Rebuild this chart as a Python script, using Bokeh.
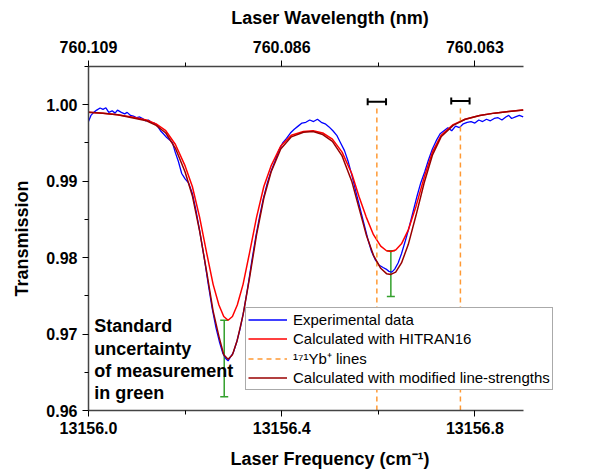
from bokeh.plotting import figure
from bokeh.models import (Range1d, LinearAxis, FixedTicker, Whisker, TeeHead,
                          ColumnDataSource, Legend, LegendItem, Label)
from bokeh.embed import file_html
from bokeh.resources import INLINE

F0 = 13156.0
# ---- data (frequency offset from 13156.0 cm^-1, transmission) ----
exp_df = [0.000, 0.005, 0.011, 0.017, 0.024, 0.030, 0.036, 0.042, 0.049, 0.055, 0.060, 0.068, 0.075, 0.080,
          0.087, 0.093, 0.100, 0.106, 0.112, 0.118, 0.124, 0.130, 0.136, 0.142, 0.149, 0.155, 0.162, 0.168,
          0.174, 0.180, 0.186, 0.193, 0.200, 0.207, 0.215, 0.223, 0.231, 0.240, 0.248, 0.256, 0.264, 0.271,
          0.278, 0.284, 0.289, 0.294, 0.300, 0.307, 0.314, 0.322, 0.330, 0.338, 0.346, 0.354, 0.362, 0.370,
          0.378, 0.386, 0.394, 0.402, 0.410, 0.418, 0.426, 0.434, 0.442, 0.450, 0.458, 0.466, 0.474, 0.482,
          0.490, 0.498, 0.506, 0.514, 0.522, 0.530, 0.538, 0.546, 0.554, 0.562, 0.570, 0.578, 0.586, 0.594,
          0.602, 0.610, 0.616, 0.622, 0.628, 0.634, 0.641, 0.648, 0.656, 0.664, 0.672, 0.680, 0.688, 0.696,
          0.704, 0.712, 0.720, 0.728, 0.736, 0.744, 0.752, 0.760, 0.768, 0.776, 0.784, 0.792, 0.800, 0.808,
          0.816, 0.824, 0.832, 0.840, 0.848, 0.856, 0.864, 0.870, 0.876, 0.884, 0.892, 0.900]
exp_T = [0.9978, 0.9986, 0.9990, 0.9993, 0.99957, 0.9994, 0.9996, 0.9990, 0.9992, 0.9989, 0.9993, 0.9990, 0.9988, 0.9990,
         0.9986, 0.9985, 0.9983, 0.9984, 0.9982, 0.9979, 0.9980, 0.9977, 0.9976, 0.9973, 0.9966, 0.9962, 0.9957, 0.9954,
         0.9950, 0.9937, 0.9926, 0.9910, 0.9903, 0.9898, 0.9884, 0.9860, 0.9832, 0.9798, 0.9765, 0.9734, 0.9708, 0.9690,
         0.9675, 0.9668, 0.9665, 0.9670, 0.9676, 0.9690, 0.9707, 0.9732, 0.9762, 0.9795, 0.9826, 0.9853, 0.9877, 0.9897,
         0.9913, 0.9926, 0.9940, 0.9950, 0.9956, 0.9963, 0.9968, 0.9972, 0.9976, 0.9977, 0.9980, 0.9978, 0.9981, 0.9977,
         0.9975, 0.9971, 0.9966, 0.9960, 0.9950, 0.9940, 0.9925, 0.9906, 0.9885, 0.9865, 0.9845, 0.9825, 0.9808, 0.9797,
         0.9790, 0.9787, 0.9785, 0.9782, 0.9781, 0.9785, 0.9793, 0.9805, 0.9822, 0.9840, 0.9860, 0.9880, 0.9898, 0.9912,
         0.9928, 0.9942, 0.9953, 0.9962, 0.9966, 0.9970, 0.9966, 0.9972, 0.9970, 0.9975, 0.9977, 0.9978, 0.9976, 0.9980,
         0.9978, 0.9981, 0.9979, 0.9982, 0.9983, 0.9980, 0.9984, 0.9986, 0.9982, 0.9984, 0.9986, 0.9984]

calc_df = [0.000, 0.030, 0.060, 0.090, 0.120, 0.140, 0.160, 0.180, 0.200, 0.215, 0.230, 0.245, 0.258, 0.270,
           0.280, 0.289, 0.298, 0.308, 0.320, 0.333, 0.348, 0.363, 0.378, 0.398, 0.420, 0.445, 0.465, 0.485,
           0.505, 0.525, 0.545, 0.560, 0.575, 0.590, 0.605, 0.617, 0.626, 0.636, 0.648, 0.662, 0.678, 0.695,
           0.712, 0.730, 0.755, 0.780, 0.810, 0.840, 0.870, 0.900]
hitran_T = [0.9990, 0.9989, 0.9987, 0.9984, 0.9980, 0.9975, 0.9966, 0.9948, 0.9920, 0.9893, 0.9853, 0.9805, 0.9765, 0.9738,
            0.9723, 0.9718, 0.9723, 0.9738, 0.9765, 0.9805, 0.9853, 0.9893, 0.9920, 0.9946, 0.9960, 0.9965, 0.9966, 0.9963,
            0.9955, 0.9938, 0.9910, 0.9880, 0.9853, 0.9830, 0.9815, 0.9809, 0.9808, 0.9810, 0.9818, 0.9836, 0.9867, 0.9905,
            0.9938, 0.9960, 0.9974, 0.9981, 0.9986, 0.9989, 0.9991, 0.9993]
modified_T = [0.9990, 0.9989, 0.9987, 0.9983, 0.9979, 0.9973, 0.9963, 0.9943, 0.9912, 0.9881, 0.9835, 0.9780, 0.9730, 0.9697,
              0.9673, 0.9667, 0.9673, 0.9692, 0.9725, 0.9772, 0.9830, 0.9878, 0.9912, 0.9942, 0.9958, 0.9964, 0.9965, 0.9961,
              0.9952, 0.9933, 0.9900, 0.9865, 0.9830, 0.9803, 0.9786, 0.9779, 0.9778, 0.9781, 0.9793, 0.9817, 0.9855, 0.9898,
              0.9934, 0.9958, 0.9973, 0.9981, 0.9986, 0.9989, 0.9991, 0.9993]

# standard uncertainty (green error bars)
unc_f = [13156.281, 13156.626]
unc_T = [0.9668, 0.9779]
unc_err = [0.0050, 0.0030]

# 171Yb+ lines and their uncertainty
yb_f = [13156.597, 13156.770]
yb_err = [0.019, 0.019]
yb_bar_T = [1.0004, 1.0005]
yb_line_T0 = 0.96
yb_line_T1 = 0.9995

# axis ticks
freq_ticks = [13156.0, 13156.4, 13156.8]
freq_minor = [13156.2, 13156.6]
freq_labels = ["13156.0", "13156.4", "13156.8"]
wl_labels = ["760.109", "760.086", "760.063"]
T_ticks = [0.96, 0.97, 0.98, 0.99, 1.00]
T_minor = [0.965, 0.975, 0.985, 0.995, 1.005]
T_labels = ["0.96", "0.97", "0.98", "0.99", "1.00"]
x_axis_bounds = (13156.0, 13156.9)

exp_f = [F0 + d for d in exp_df]
calc_f = [F0 + d for d in calc_df]

FONT = "Liberation Sans"
AX = "#444444"

p = figure(width=590, height=471, output_backend="svg", toolbar_location=None,
           x_range=Range1d(13156.0, 13157.0), y_range=Range1d(0.96, 1.005),
           min_border_left=88, min_border_right=19, min_border_top=66, min_border_bottom=57,
           x_axis_type=None, y_axis_type=None)
p.outline_line_color = None
p.xgrid.visible = False
p.ygrid.visible = False
p.background_fill_color = "white"
p.border_fill_color = "white"


def style_axis(ax, title, standoff, label_standoff):
    ax.axis_label = title
    ax.axis_label_text_font = FONT
    ax.axis_label_text_font_style = "bold"
    ax.axis_label_text_font_size = "18px"
    ax.axis_label_text_color = "black"
    ax.axis_label_standoff = standoff
    ax.major_label_text_font = FONT
    ax.major_label_text_font_style = "bold"
    ax.major_label_text_font_size = "16px"
    ax.major_label_text_color = "black"
    ax.major_label_standoff = label_standoff
    ax.axis_line_color = AX
    ax.axis_line_width = 1.5
    ax.major_tick_line_color = "black"
    ax.minor_tick_line_color = "black"
    ax.major_tick_line_width = 1
    ax.minor_tick_line_width = 1
    ax.major_tick_out = 6
    ax.major_tick_in = 0
    ax.minor_tick_out = 4
    ax.minor_tick_in = 0


bottom = LinearAxis(ticker=FixedTicker(ticks=freq_ticks, minor_ticks=freq_minor),
                    major_label_overrides={t: l for t, l in zip(freq_ticks, freq_labels)},
                    bounds=x_axis_bounds)
style_axis(bottom, "Laser Frequency (cm\u207b\u00b9)", 12, 5)
p.add_layout(bottom, "below")

top = LinearAxis(ticker=FixedTicker(ticks=freq_ticks, minor_ticks=freq_minor),
                 major_label_overrides={t: l for t, l in zip(freq_ticks, wl_labels)},
                 bounds=x_axis_bounds)
style_axis(top, "Laser Wavelength (nm)", 10, 8)
p.add_layout(top, "above")

left = LinearAxis(ticker=FixedTicker(ticks=T_ticks, minor_ticks=T_minor),
                  major_label_overrides={t: l for t, l in zip(T_ticks, T_labels)})
style_axis(left, "Transmission", 11, 5)
p.add_layout(left, "left")

r_exp = p.line(exp_f, exp_T, line_color="#0000FF", line_width=1.3)
r_hit = p.line(calc_f, hitran_T, line_color="#FF0000", line_width=1.5)

yb_src = ColumnDataSource(dict(x=yb_f, y0=[yb_line_T0] * len(yb_f), y1=[yb_line_T1] * len(yb_f),
                               yb=yb_bar_T, xl=[a - e for a, e in zip(yb_f, yb_err)],
                               xu=[a + e for a, e in zip(yb_f, yb_err)]))
r_yb = p.segment(x0="x", y0="y0", x1="x", y1="y1", source=yb_src, line_color="#FF9933",
                 line_width=1.5, line_dash="5 4")
r_mod = p.line(calc_f, modified_T, line_color="#990000", line_width=1.5)

p.add_layout(Whisker(base="yb", lower="xl", upper="xu", dimension="width", source=yb_src,
                     line_color="black", line_width=2,
                     lower_head=TeeHead(size=7, line_color="black", line_width=2),
                     upper_head=TeeHead(size=7, line_color="black", line_width=2)))

unc_src = ColumnDataSource(dict(x=unc_f, lo=[t - e for t, e in zip(unc_T, unc_err)],
                                hi=[t + e for t, e in zip(unc_T, unc_err)]))
green = "#33A02C"
p.add_layout(Whisker(base="x", lower="lo", upper="hi", source=unc_src, line_color=green, line_width=1.5,
                     lower_head=TeeHead(size=8, line_color=green, line_width=1.5),
                     upper_head=TeeHead(size=8, line_color=green, line_width=1.5)))

legend = Legend(items=[LegendItem(label="Experimental data", renderers=[r_exp]),
                       LegendItem(label="Calculated with HITRAN16", renderers=[r_hit]),
                       LegendItem(label="\u00b9\u2077\u00b9Yb\u207a lines", renderers=[r_yb]),
                       LegendItem(label="Calculated with modified line-strengths", renderers=[r_mod])],
                location=(157, 20))
legend.label_text_font = FONT
legend.label_text_font_size = "15px"
legend.label_text_color = "black"
legend.border_line_color = "#555555"
legend.border_line_width = 1.5
legend.background_fill_alpha = 1
legend.padding = 2
legend.margin = 0
legend.spacing = 0
legend.label_height = 19
legend.glyph_height = 19
legend.glyph_width = 39
legend.label_standoff = 6
p.add_layout(legend, "center")

note_lines = ["Standard", "uncertainty", "of measurement", "in green"]
note_T = [0.9710, 0.9681, 0.9652, 0.9623]
for txt, ty in zip(note_lines, note_T):
    p.add_layout(Label(x=13156.012, y=ty, text=txt, text_font=FONT, text_font_style="bold",
                       text_font_size="18px", text_baseline="middle", text_color="black"))

open("out.html", "w").write(file_html(p, INLINE))
